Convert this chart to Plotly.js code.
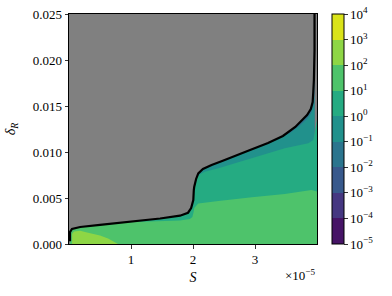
<!DOCTYPE html>
<html>
<head>
<meta charset="utf-8">
<script src="https://cdn.plot.ly/plotly-3.0.1.min.js"></script>
<style>html,body{margin:0;padding:0;background:#fff;}#chart{width:392px;height:296px;}</style>
</head>
<body>
<div id="chart"></div>
<script>
// Stability boundary (black curve); above it the region is undefined (grey)
const boundaryS = [0.016e-5,0.016e-5,0.048e-5,0.18e-5,0.5e-5,1.0e-5,1.47e-5,1.79e-5,1.92e-5,1.97e-5,2.005e-5,2.013e-5,2.02e-5,2.05e-5,2.085e-5,2.16e-5,2.30e-5,2.47e-5,2.68e-5,2.92e-5,3.21e-5,3.45e-5,3.65e-5,3.76e-5,3.84e-5,3.90e-5,3.93e-5,3.94e-5,3.95e-5,3.96e-5,3.96e-5];
const boundaryD = [0.0003,0.0013,0.00163,0.00185,0.00207,0.00242,0.00277,0.00308,0.0034,0.0039,0.00478,0.00587,0.00623,0.00707,0.00768,0.00815,0.00859,0.00902,0.00962,0.01022,0.01098,0.01174,0.01272,0.01342,0.01402,0.01467,0.01543,0.01652,0.01783,0.02109,0.025];

// Contour level 10^2 (upper edge of the 10^2..10^3 band)
const level2S = [0.05e-5,0.05e-5,0.08e-5,0.18e-5,0.29e-5,0.5e-5,0.63e-5,0.71e-5,0.79e-5];
const level2D = [0,0.00109,0.00136,0.00143,0.00125,0.00092,0.0006,0.00029,0];

// Contour level 10^1
const level1S = [0.90e-5,1.31e-5,1.79e-5,1.95e-5,1.99e-5,2.01e-5,2.02e-5,2.085e-5,2.19e-5,2.41e-5,2.95e-5,3.48e-5,3.91e-5,3.95e-5,4.0e-5];
const level1D = [0.00236,0.00245,0.00255,0.00272,0.00293,0.00348,0.00391,0.0044,0.00451,0.00467,0.00508,0.00544,0.00587,0.00582,0.0057];

// Contour level 10^0
const level0S = [2.045e-5,2.11e-5,2.19e-5,2.41e-5,2.95e-5,3.48e-5,3.86e-5,3.94e-5,3.97e-5,4.0e-5];
const level0D = [0.0071,0.00755,0.00786,0.00823,0.00932,0.0104,0.01095,0.0113,0.0124,0.0135];

// Contour level 10^-1
const levelm1S = [3.40e-5,3.565e-5,3.726e-5,3.839e-5,3.903e-5,3.944e-5,3.96e-5];
const levelm1D = [0.01158,0.01207,0.01288,0.01359,0.01419,0.01511,0.0162];

// Colour bar: decades and band colours (viridis)
const cbarExponents = [-5,-4,-3,-2,-1,0,1,2,3,4];
const bandColors = ['#461466','#453781','#38598c','#2b758e','#21918c','#25ab82','#4ec36b','#8ed645','#dae319'];

const xTickVals = [1e-5,2e-5,3e-5];
const xTickText = ['1','2','3'];
const yTickVals = [0,0.005,0.010,0.015,0.020,0.025];

// level curve merged with the boundary where the band vanishes
function withBoundary(ls, ld){
  const xs=[], ys=[];
  for(let i=0;i<boundaryS.length;i++){ if(boundaryS[i] < ls[0]){ xs.push(boundaryS[i]); ys.push(boundaryD[i]); } }
  return {x: xs.concat(ls), y: ys.concat(ld)};
}

const FONT = 'Liberation Serif, DejaVu Serif, serif';
function fillTrace(xy, color){
  return {type:'scatter', mode:'lines', x:xy.x, y:xy.y, fill:'tozeroy', fillcolor:color,
          line:{width:0, color:color}, hoverinfo:'skip', showlegend:false};
}
const cIdx = e => bandColors[e - cbarExponents[0]];

const traces = [
  fillTrace({x:boundaryS, y:boundaryD}, cIdx(-2)),
  fillTrace(withBoundary(levelm1S, levelm1D), cIdx(-1)),
  fillTrace(withBoundary(level0S, level0D), cIdx(0)),
  fillTrace(withBoundary(level1S, level1D), cIdx(1)),
  fillTrace({x:level2S, y:level2D}, cIdx(2)),
  {type:'scatter', mode:'lines', x:boundaryS, y:boundaryD, line:{color:'#000', width:2.2},
   hoverinfo:'skip', showlegend:false}
];

const n = bandColors.length;
const cs = [];
bandColors.forEach((c,i)=>{ cs.push([i/n, c]); cs.push([(i+1)/n, c]); });

traces.push({
  type:'scatter', mode:'markers', x:[boundaryS[0]], y:[boundaryD[0]], hoverinfo:'skip', showlegend:false,
  marker:{size:1, opacity:0, color:[cbarExponents[0]], colorscale:cs,
    cmin:cbarExponents[0], cmax:cbarExponents[cbarExponents.length-1], showscale:true,
    colorbar:{x:(332-69)/248, xanchor:'left', xpad:0, ypad:0, y:0.5, yanchor:'middle',
      thickness:12, thicknessmode:'pixels', len:230, lenmode:'pixels',
      outlinewidth:1, outlinecolor:'#000', ticks:'outside', ticklen:3.5, tickwidth:0.8, tickcolor:'#000',
      tickvals:cbarExponents, ticktext:cbarExponents.map(e=>'10<sup>'+(e<0?'\u2212'+(-e):e)+'</sup>'),
      tickfont:{family:FONT, size:13, color:'#000'}}}
});

const layout = {
  width:392, height:296,
  margin:{l:69, r:75, t:14, b:52, pad:0},
  paper_bgcolor:'#fff', plot_bgcolor:'#808080',
  showlegend:false,
  xaxis:{range:[0,4.0e-5], tickvals:xTickVals, ticktext:xTickText, ticks:'outside', ticklen:3.5, tickwidth:0.8,
    tickcolor:'#000', showline:true, linecolor:'#000', linewidth:1, mirror:true, showgrid:false, zeroline:false,
    tickfont:{family:FONT, size:13, color:'#000'},
    title:{text:'<i>S</i>', font:{family:FONT, size:14, color:'#000'}, standoff:6}},
  yaxis:{range:[0,0.025], tickvals:yTickVals, tickformat:'.3f', ticks:'outside', ticklen:3.5, tickwidth:0.8,
    tickcolor:'#000', showline:true, linecolor:'#000', linewidth:1, mirror:true, showgrid:false, zeroline:false,
    tickfont:{family:FONT, size:13, color:'#000'},
    title:{text:'<i>δ</i><sub><i>R</i></sub>', font:{family:FONT, size:14, color:'#000'}, standoff:13}},
  annotations:[{xref:'paper', yref:'paper', x:1, y:0, xanchor:'right', yanchor:'top', yshift:-21,
    text:'×10<sup>\u22125</sup>', showarrow:false, font:{family:FONT, size:13, color:'#000'}}]
};

Plotly.newPlot('chart', traces, layout, {staticPlot:true, displayModeBar:false});
</script>
</body>
</html>
